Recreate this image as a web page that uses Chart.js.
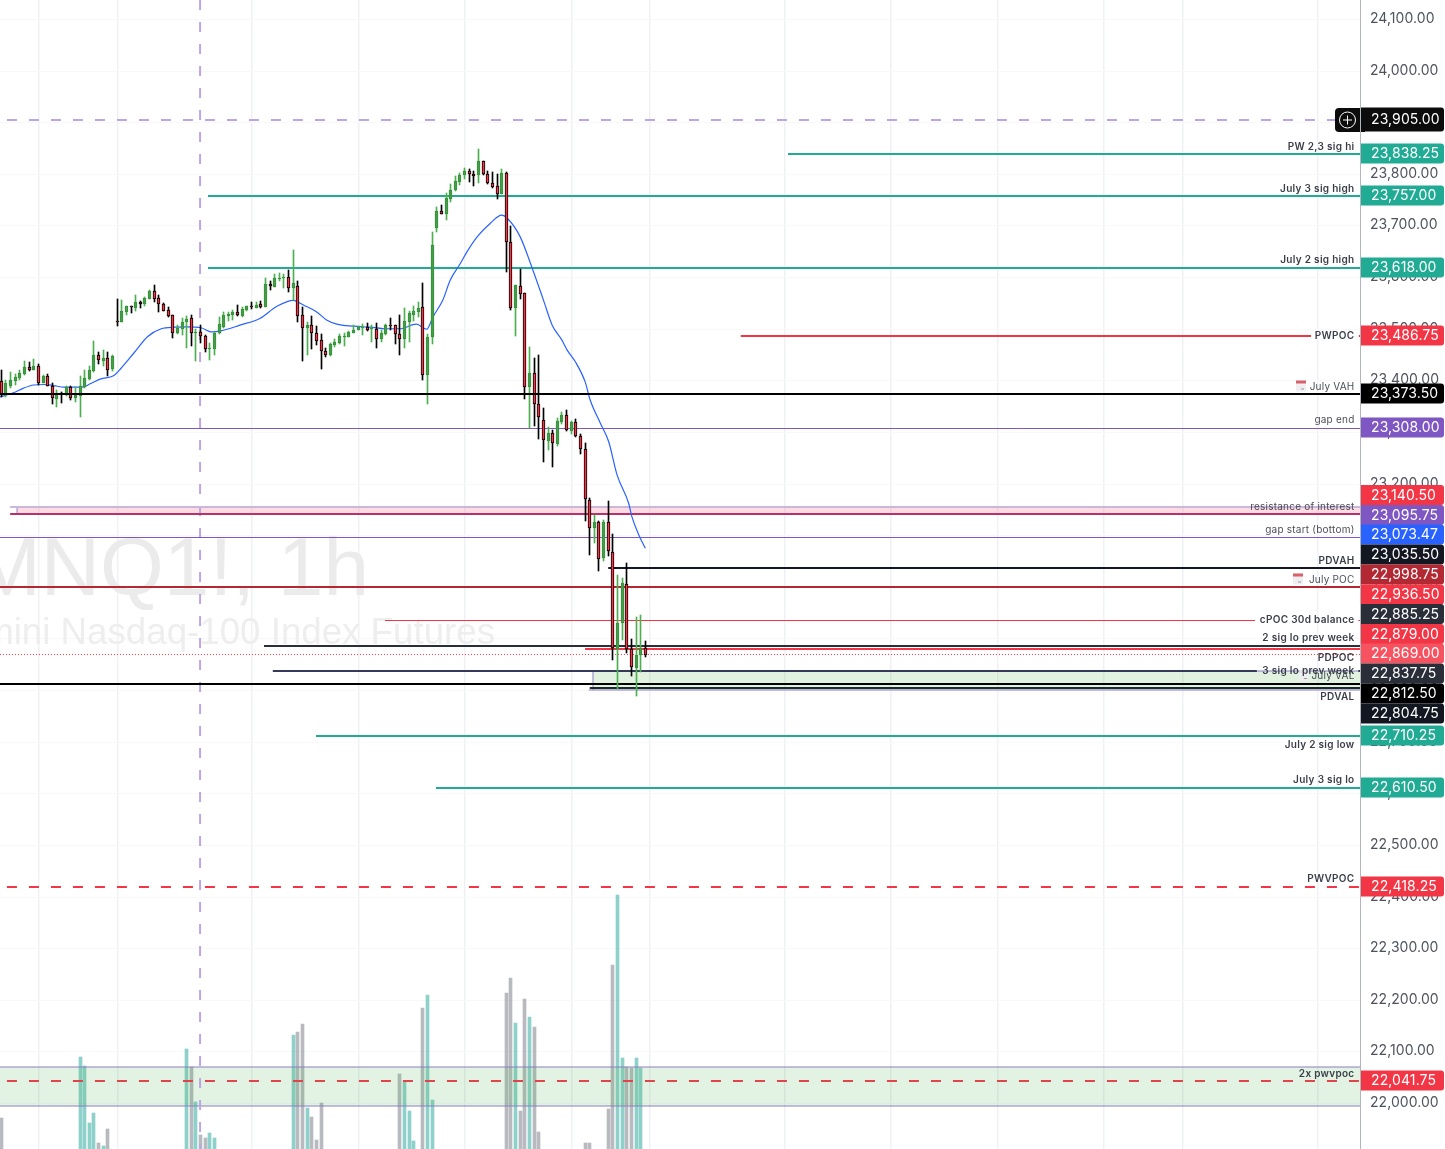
<!DOCTYPE html>
<html>
<head>
<meta charset="utf-8">
<style>html,body{margin:0;padding:0;background:#fff;overflow:hidden}canvas{display:block}</style>
<script src="https://cdn.jsdelivr.net/npm/chart.js@4"></script>
</head>
<body>
<canvas id="c" width="1445" height="1149"></canvas>
<script>
// ---- candles (one entry per bar) ----
const highs = [23419,23399,23414,23410,23419,23435,23433,23439.5,23429,23408,
23410,23392,23379,23375,23388,23387,23385,23406.5,23419,23425,
23474,23452,23456,23452,23447,23555,23553,23543,23542,23563,
23552,23560,23574,23582,23563,23547,23540,23525,23505,23519,
23523,23524,23498,23505,23485,23470,23492,23520,23530.5,23530.5,
23534,23544,23541,23543,23550,23549,23552,23597,23591,23604,
23606,23605,23612,23651,23590,23540,23510.5,23522,23503,23487,
23461,23471,23478,23488,23490,23494,23505,23503,23507,23509,
23506,23509,23496,23507,23518,23506,23525,23538,23532.5,23543,
23550,23587,23488,23685,23734,23738,23761,23778,23794,23799,
23809,23808,23803,23846.5,23823.5,23804,23802,23798,23808,23801,
23697,23583,23614,23568,23463,23441,23447,23344,23308,23302,
23325,23336,23340.5,23319,23322.5,23294,23276,23169.5,23137,23125,
23127.5,23164,23100,23021,23015.7,23045,22897,22939,22943.5,22893];
const opens = [23396,23372,23387,23397,23403,23410,23424,23419,23425,23393,
23406,23388,23362,23374,23369,23385,23363,23368.5,23385,23401,
23417,23447,23436,23441,23419.5,23513,23512,23531,23541,23539,
23550,23545,23556,23571,23557,23545,23534,23524,23490.5,23498,
23511,23518,23490.5,23491,23483,23459,23459.5,23489,23502,23523,
23525,23530,23523,23535,23541.5,23539,23546,23541,23584,23579,
23595,23597,23598,23576,23580,23524,23499.5,23505,23489,23476,
23454,23447,23467,23470.5,23482.5,23482.5,23490.5,23496,23500,23501.5,
23497,23498,23479,23488,23505,23505,23487,23479,23512,23525,
23530.5,23540,23409,23481.5,23694,23726.5,23721,23750,23766,23783,
23795,23803,23798,23795,23823,23797.5,23780,23774,23759,23799,
23667,23538,23580,23567,23386,23412,23352,23321,23281,23295.5,
23275,23318,23330,23300.5,23317,23289.7,23266,23165.7,23111.5,23123,
23053,23123,23065,22877,22927.4,23003,22877,22841,22866.5,22879];
const closes = [23372,23392,23398,23404,23412,23423,23419,23425,23393,23406.5,
23388,23363,23374,23372,23385,23363,23369,23386.5,23402,23417.5,
23447,23437,23441,23419,23445,23512,23532,23542,23540,23550,
23545,23557,23571,23556,23545,23533,23523,23490.5,23499.5,23510.5,
23517,23490.5,23492,23483,23458,23461,23490,23507,23524,23527,
23530,23525,23536,23542,23540,23544,23540,23584,23580,23596,
23596,23598,23576,23587,23523,23500,23505,23489,23475,23454,
23447,23468,23472,23483,23483.5,23492,23496,23502,23501.5,23496,
23498,23479,23489,23505,23504,23487,23479,23512.5,23528,23532,
23538,23409,23481.5,23660,23726,23721,23751,23766.5,23784,23795.5,
23803,23797,23793,23823,23797,23780,23773.5,23760,23799,23667,
23538,23582,23566,23386,23412,23352,23326.5,23282,23295.5,23276,
23319,23330,23301,23317,23289.7,23265.7,23167.7,23111.5,23123,23052.5,
23123,23067,22879,22927.4,23005,22877,22842,22866,22879.5,22866.5];
const lows = [23366,23366,23383,23389,23399,23408,23417,23417.5,23390,23392,
23387,23353,23347,23355,23368,23360,23357,23328,23383,23399,
23414,23430,23425,23406.5,23417,23504,23510.5,23525,23529,23532.5,
23538,23543,23555,23550,23530.5,23532,23520,23480,23487,23485,
23461,23465,23436,23471,23453,23437.5,23447,23487,23500,23513,
23514,23522,23520,23533,23537,23538,23538,23540,23573,23578,
23591,23577,23569,23554,23511,23436,23447,23459,23467,23420,
23444,23446,23463,23469,23465,23481.5,23490,23495.5,23486,23494,
23472,23461,23473,23486,23496,23468.5,23447,23461,23472,23513,
23520,23399,23352,23468.5,23686,23720.5,23709,23744.5,23765,23777,
23788.5,23782.5,23775.5,23781,23796,23779,23771,23750,23759,23607,
23534,23483,23556,23362.5,23305,23310,23285,23240.5,23264,23231,
23271.5,23313,23300.5,23294.7,23289,23255,23126,23060,23083.5,23029,
23048.7,23058,22856,22799.5,22895,22869,22826,22787,22833.7,22862.7];

// ---- volume (only the bars that reach into the visible part) ----
const volumeBars = [0,17,18,19,20,21,22,23,40,41,42,43,44,45,46,63,64,65,66,67,68,69,86,87,88,89,91,92,93,109,110,111,112,113,114,115,116,126,127,131,132,133,134,135,136,137,138];
const volumes = [5200,11300,10400,4700,5700,2700,2400,4100,12100,10300,6800,3500,3200,3700,3200,13500,13800,14600,6200,5300,3000,6700,9600,8800,5900,2900,16200,17500,7000,17700,19200,14700,5900,17100,15300,14300,3800,2700,2700,6100,20500,27500,11200,10300,10200,11200,10200];

// ---- moving average ----
const maBars = [-0.3,2.6,4.8,7,9.3,11.3,13.5,15.7,17.5,19.3,21.5,24.2,25.8,28.7,31.6,34.5,37.4,40.2,43.1,45.3,47.4,51.5,55.8,59.4,63,65.2,68,70.2,72.4,76,79.6,83.2,86,89.6,91.8,93.2,95.3,96.9,99.1,100.5,102.7,105.5,108,109.2,112,114.2,117,118.9,121,122.1,123.9,126,127.1,129.3,131.1,132.9,135.4,136.1,137.6,139];
const maValues = [23366,23374,23383,23389,23390,23388,23385,23385,23385,23392,23401,23407,23421,23452,23483,23498,23501,23501.5,23500,23492,23494,23505,23518,23541,23553,23544,23531,23515,23507,23503,23501,23498,23498,23507,23497,23521.5,23553.7,23592.5,23624.8,23647,23676,23702,23718,23712,23676,23625,23554,23505,23476,23457,23434,23395.5,23360,23315,23279,23215,23160,23134,23098.5,23072.7];

// ---- horizontal levels ----
const levelPrices = [23905,23838.25,23757,23618,23486.75,23486.75,23373.5,23308,23155.5,23140.5,23095.75,23035.5,22998.75,22936.5,22936.5,22885.25,22879,22869,22837.75,22837.75,22812.5,22804.75,22710.25,22610.5,22418.25,22041.75];
const levelFrom = [-0.3,169.8,44.6,44.6,159.6,293,-0.3,-0.3,1.9,1.9,-0.3,131,-0.3,82.8,292.9,56.7,126,-0.3,58.6,292.9,-0.3,127,67.9,93.8,-0.3,-0.3];
const levelTo = [293.3,293.3,293.3,293.3,282.7,293.3,293.3,293.3,293.3,293.3,293.3,293.3,293.3,270.6,293.3,293.3,293.3,293.3,271,293.3,293.3,293.3,293.3,293.3,293.3,293.3];

// ---- shaded zones ----
const zoneHigh = [23155.5,22836,22070.7];
const zoneLow = [23140.5,22800,21994];
const zoneFrom = [3.4,127.7,-0.3];

// ---- axes ----
const gridBars = [8,25,54,77,100,123,140,169,192,215,238,255,284];
const eventBar = 42.9;

// ---- right-edge price tags ----
const tagTexts = ['23,905.00','23,838.25','23,757.00','23,618.00','23,486.75','23,373.50','23,308.00','23,140.50','23,095.75','23,073.47','23,035.50','22,998.75','22,936.50','22,885.25','22,879.00','22,869.00','22,837.75','22,812.50','22,804.75','22,710.25','22,610.50','22,418.25','22,041.75'];

// ---- text notes on the right ----
const noteTexts = ['PW 2,3 sig hi','July 3 sig high','July 2 sig high','PWPOC','July VAH','gap end','resistance of interest','gap start (bottom)','PDVAH','July POC','cPOC 30d balance','2 sig lo prev week','PDPOC','3 sig lo prev week','July VAL','PDVAL','July 2 sig low','July 3 sig lo','PWVPOC','2x pwvpoc'];

// ---------- styles and layout, kept apart from the values ----------
const TEAL='#22ab94', RED='#f23645', BLACK='#000000', NAVY='#131722', SLATE='#2a2e39', PURPLE='#7e57c2', LILAC='#bba6e3', DKRED='#b22833', ROSE='#b8316a';
const levelStyle = [
 [LILAC,2,'d'],[TEAL,2],[TEAL,2],[TEAL,2],[RED,2],[RED,2],[BLACK,2,'top'],[PURPLE,1],
 ['#c9b8dc',2],[ROSE,2],[PURPLE,1],[NAVY,2],[DKRED,2],[RED,1],[RED,1],[SLATE,2],[RED,2],[RED,1,'o'],['#363a5a',2],['#363a5a',2],[BLACK,2],['#1d2a2a',2],[TEAL,2],[TEAL,2],[RED,2,'d'],['#e0454c',2,'d']
];
const zoneFill = ['rgba(242,54,100,.18)','rgba(76,175,80,.17)','rgba(76,175,80,.16)'];
const tagColors = ['#0c0c0c',TEAL,TEAL,TEAL,RED,BLACK,PURPLE,RED,PURPLE,'#2962ff',NAVY,DKRED,RED,SLATE,RED,'#f7525f',SLATE,BLACK,NAVY,TEAL,TEAL,RED,RED];
const tagY = [119.5,153.5,195.5,267.5,335.5,393.5,427.5,495,515,534.5,554.5,574.5,594.5,614,634,653.5,673.5,693.5,713.5,735.5,787.5,886.5,1080.5];
const noteY = [146.5,188.5,259.5,336,386.5,420,507,530,561,579.5,620,637.5,658,671,676,697,745,780,879,1074];
const noteBold = [1,1,1,1,0,0,0,0,1,0,1,1,1,1,0,1,1,1,1,1];
const noteIconX = {4:1296,9:1293,14:1299};

const PX_MIN=-0.287, PX_MAX=293.26, P_MAX=24135.84, P_MIN=21909.97, P_READ_MAX=24134.87, P_READ_MIN=21909;
const bodyColor = i => closes[i]>=opens[i] ? '#43a047' : '#f23645';
const bodyBorder = i => closes[i]>=opens[i] ? '#388e3c' : '#000000';
const wickColor = i => closes[i]>=opens[i] ? '#4caf50' : '#000000';
const idx = opens.map((_,i)=>i);

const datasets = [];
// candles
datasets.push({type:'bar',label:'wicks',order:2,grouped:false,barThickness:1,xAxisID:'x',yAxisID:'yBar',
  data:idx.map(i=>({x:i,y:[lows[i],highs[i]]})),
  backgroundColor:c=>wickColor(c.dataIndex),borderWidth:0});
datasets.push({type:'bar',label:'bodies',order:1,grouped:false,barThickness:3,xAxisID:'x',yAxisID:'yBar',
  data:idx.map(i=>({x:i,y:[opens[i],closes[i]]})),
  backgroundColor:c=>bodyColor(c.dataIndex),borderColor:c=>bodyBorder(c.dataIndex),borderWidth:1,borderSkipped:false,minBarLength:1});
// volume
datasets.push({type:'bar',label:'volume',order:40,grouped:false,barThickness:3,xAxisID:'x',yAxisID:'yVol',
  data:volumeBars.map((b,k)=>({x:b,y:volumes[k]})),
  backgroundColor:c=>{const b=volumeBars[c.dataIndex];return closes[b]>=opens[b]?'rgba(38,166,154,.52)':'rgba(120,123,134,.52)';},borderWidth:0});
// moving average
datasets.push({type:'line',label:'MA',order:3,xAxisID:'x2',yAxisID:'yLine',borderColor:'#2962ff',borderWidth:1.2,pointRadius:0,cubicInterpolationMode:'monotone',
  data:maBars.map((b,k)=>({x:b,y:maValues[k]}))});
// levels
levelPrices.forEach((p,k)=>{
  const s=levelStyle[k];
  datasets.push({type:'line',label:'level'+k,order:s[2]==='top'?0:10,xAxisID:'x2',yAxisID:s[1]===1?'yThin':'y',
    borderColor:s[0],borderWidth:s[1],pointRadius:0,
    borderDash:s[2]==='d'?[10,12]:s[2]==='o'?[1,2]:[],borderDashOffset:s[2]==='d'?15:0,
    data:[{x:levelFrom[k],y:p},{x:levelTo[k],y:p}]});
});
// zones with their outlines
zoneHigh.forEach((h,k)=>{
  datasets.push({type:'line',label:'zone'+k,order:20,xAxisID:'x2',yAxisID:'y',pointRadius:0,borderWidth:0,
    backgroundColor:zoneFill[k],fill:{value:zoneLow[k]},
    data:[{x:zoneFrom[k],y:h},{x:PX_MAX,y:h}]});
});
[[1,zoneHigh[1]],[1,zoneLow[1]],[2,zoneHigh[2]],[2,zoneLow[2]]].forEach(([k,v])=>{
  datasets.push({type:'line',label:'edge',order:15,xAxisID:'x2',yAxisID:'y',pointRadius:0,
    borderColor:'rgba(140,125,195,.5)',borderWidth:2,
    data:[{x:k===1?126.8:zoneFrom[k],y:v},{x:PX_MAX,y:v}]});
});
[[0],[1]].forEach(([k])=>{
  datasets.push({type:'line',label:'handle',order:15,xAxisID:'x2',yAxisID:'y',pointRadius:0,
    borderColor:'rgba(140,125,195,.5)',borderWidth:2,
    data:[{x:zoneFrom[k],y:zoneHigh[k]},{x:zoneFrom[k],y:zoneLow[k]}]});
});
// vertical event line
datasets.push({type:'line',label:'event',order:12,xAxisID:'x2',yAxisID:'y',pointRadius:0,
  borderColor:LILAC,borderWidth:2,borderDash:[10,12],
  data:[{x:eventBar,y:P_MAX},{x:eventBar,y:P_MIN}]});

const snap = {
  id:'snap',
  afterLayout(chart){
    const patch=(s,fn)=>{ if(s._snapped) return; const f=s.getPixelForValue.bind(s); s.getPixelForValue=(v,i)=>fn(f(v,i)); s._snapped=true; };
    patch(chart.scales.x, p=>Math.round(p-0.5)+0.5);
    patch(chart.scales.y, p=>Math.ceil(p-0.01));
    patch(chart.scales.yBar, p=>Math.round(p));
    patch(chart.scales.yThin, p=>Math.ceil(p-0.01)+0.5);
  },
  beforeDraw(chart){ chart.ctx.letterSpacing='0.05px'; }
};
const watermark = {
  id:'watermark',
  beforeDatasetsDraw(chart){
    const c=chart.ctx; c.save(); c.textAlign='right'; c.textBaseline='alphabetic'; c.letterSpacing='0px';
    c.fillStyle='#ebebeb'; c.font='82px "Liberation Sans"'; c.fillText('MNQ1!, 1h',369,595);
    c.fillStyle='#eeeeee'; c.font='36.7px "Liberation Sans"'; c.fillText('mini Nasdaq-100 Index Futures',495,644);
    c.restore();
  }
};
const overlay = {
  id:'overlay',
  afterDraw(chart){
    const c=chart.ctx; c.save();
    // calendar icons first, so the notes stay readable over them
    Object.keys(noteIconX).forEach(key=>{
      const k=+key, x=noteIconX[k], y=noteY[k]-6;
      c.fillStyle='#efeff1'; c.fillRect(x,y,10,11);
      c.fillStyle=k===14?'#e2e2e6':'#d8616a'; c.fillRect(x,y,10,3);
      c.fillStyle='#9a9ca5'; c.fillRect(x+5,y+8,3,1);
    });
    // notes
    c.textAlign='right'; c.textBaseline='middle';
    noteTexts.forEach((t,k)=>{
      c.font=(noteBold[k]?'600 ':'400 ')+'10px Inter';
      c.letterSpacing=noteBold[k]?'0.3px':'0.22px';
      c.fillStyle=noteBold[k]?'rgba(42,46,57,.92)':'rgba(42,46,57,.85)';
      c.fillText(t,1354.5,noteY[k]);
    });
    c.letterSpacing='0px';
    // plus button
    c.fillStyle=tagColors[0];
    c.beginPath(); c.roundRect(1335,108,30,24,[4,0,0,4]); c.fill();
    // tags
    c.textAlign='left';
    tagTexts.forEach((t,k)=>{
      const h=k===0?24:20, y=tagY[k];
      c.fillStyle=tagColors[k];
      c.beginPath(); c.roundRect(1361,y-h/2,83,h,[0,3,3,0]); c.fill();
      c.fillStyle='#ffffff'; c.font='14px Inter'; c.letterSpacing='0.1px';
      c.fillText(t,1371,y+0.5);
    });
    // axis separator back on top of the button
    c.strokeStyle='#b2b5be'; c.lineWidth=1; c.beginPath(); c.moveTo(1360.5,0); c.lineTo(1360.5,1149); c.stroke();
    c.strokeStyle='#ffffff'; c.lineWidth=1;
    c.beginPath(); c.arc(1347.5,120,8,0,Math.PI*2); c.moveTo(1343,120); c.lineTo(1352,120); c.moveTo(1347.5,115.5); c.lineTo(1347.5,124.5); c.stroke();
    c.restore();
  }
};

new Chart(document.getElementById('c'),{
  type:'bar',
  data:{datasets},
  plugins:[snap,watermark,overlay],
  options:{
    responsive:false,animation:false,devicePixelRatio:1,
    layout:{padding:0,autoPadding:false},
    plugins:{legend:{display:false},title:{display:false},tooltip:{enabled:false}},
    scales:{
      x:{type:'linear',position:'bottom',offset:false,min:PX_MIN,max:PX_MAX,
        afterBuildTicks:s=>{s.ticks=gridBars.map(v=>({value:v}));},
        afterFit:s=>{s.height=0;s.paddingLeft=0;s.paddingRight=0;},
        grid:{offset:false,color:'#f0f1f4',lineWidth:1.5,drawTicks:false},border:{display:false},
        ticks:{display:false}},
      x2:{type:'linear',display:false,offset:false,grid:{offset:false},min:PX_MIN,max:PX_MAX},
      y:{type:'linear',position:'right',min:P_MIN,max:P_MAX,
        afterFit:s=>{s.width=85;s.paddingTop=0;s.paddingBottom=0;},
        grid:{color:'#f8f8fa',lineWidth:1,drawTicks:false},
        border:{display:true,color:'#b2b5be',width:1},
        ticks:{stepSize:100,includeBounds:false,padding:10,color:'#50535e',font:{family:'Inter',size:14},
          callback:v=>Number(v).toLocaleString('en-US',{minimumFractionDigits:2,maximumFractionDigits:2})}},
      yThin:{type:'linear',display:false,min:P_MIN,max:P_MAX},
      yBar:{type:'linear',display:false,min:P_READ_MIN,max:P_READ_MAX},
      yLine:{type:'linear',display:false,min:P_READ_MIN,max:P_READ_MAX},
      yVol:{type:'linear',display:false,min:2100,max:117000}
    }
  }
});
</script>
</body>
</html>
